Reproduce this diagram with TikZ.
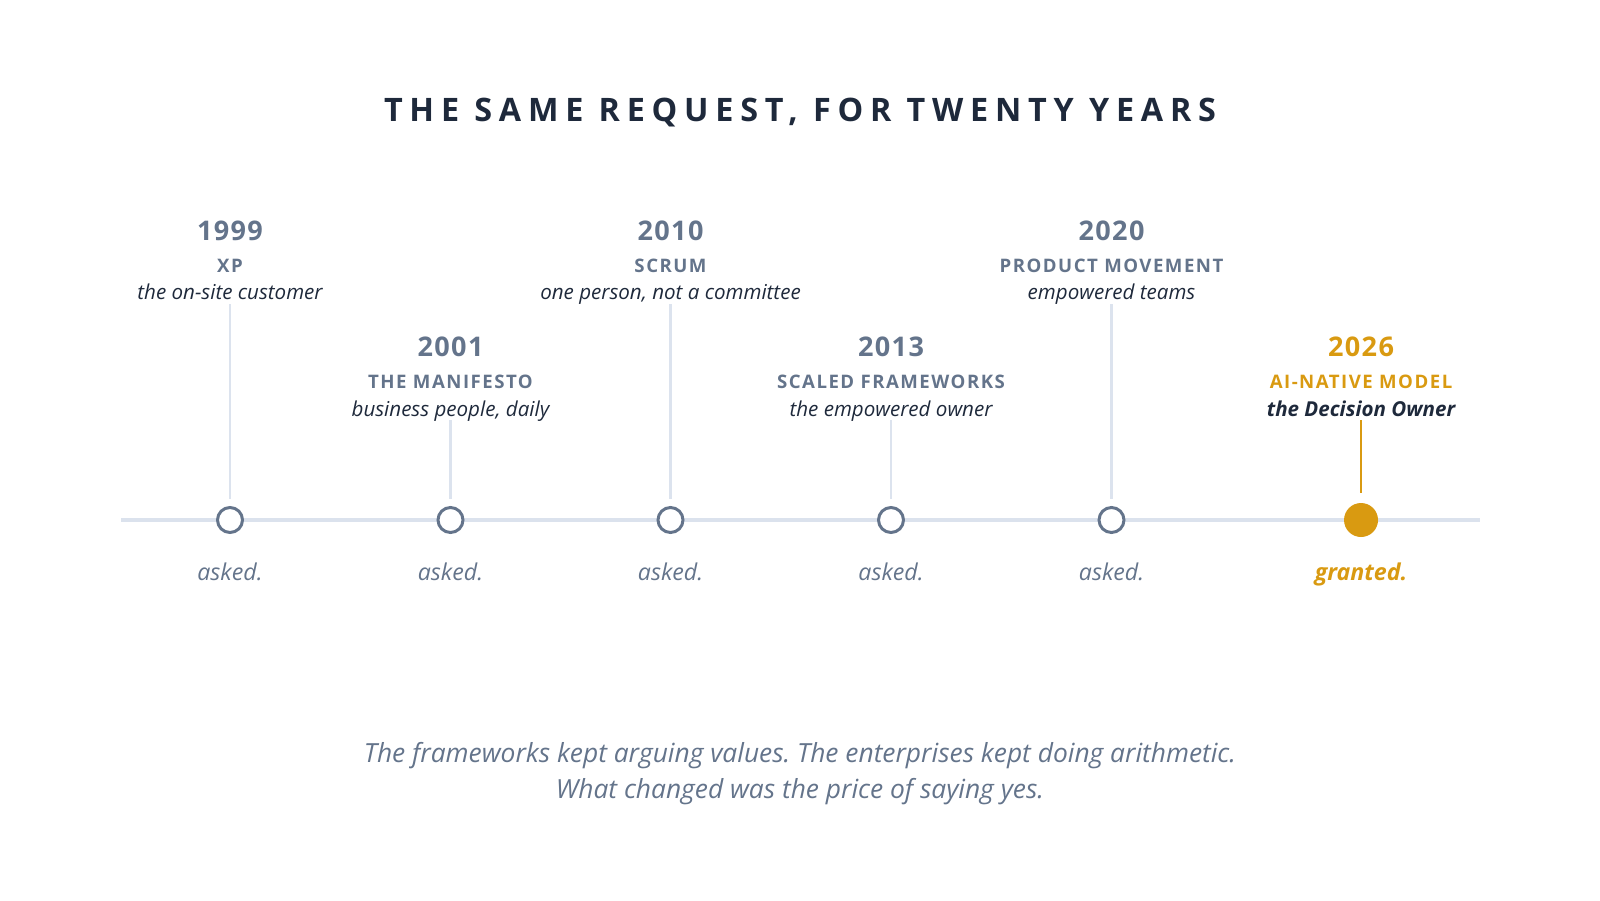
\documentclass[tikz,border=0pt]{standalone}
\usepackage{fontspec}
\setmainfont{Open Sans}
\newfontfamily\headfont[LetterSpace=21]{Open Sans}
\newfontfamily\catfont[LetterSpace=8]{Open Sans}
\newfontfamily\yearfont[LetterSpace=5]{Open Sans}
\usetikzlibrary{positioning}
\frenchspacing

\definecolor{ink}{HTML}{1E293B}
\definecolor{slate}{HTML}{64748B}
\definecolor{rail}{HTML}{DBE2ED}
\definecolor{stemc}{HTML}{DCE3EE}
\definecolor{gold}{HTML}{D99A11}

\begin{document}
\begin{tikzpicture}[
  every node/.style={inner sep=0pt, outer sep=0pt, anchor=base},
  title/.style={font=\headfont\fontsize{9.2}{10}\selectfont\bfseries, text=ink},
  year/.style={font=\yearfont\fontsize{7.7}{9}\selectfont\bfseries, text=slate},
  cat/.style={font=\catfont\fontsize{5.3}{6}\selectfont\bfseries, text=slate},
  note/.style={font=\fontsize{5.85}{7}\selectfont\itshape, text=ink},
  verdict/.style={font=\fontsize{6.6}{8}\selectfont\itshape, text=slate},
  footer/.style={font=\fontsize{7.5}{9}\selectfont\itshape, text=slate},
  dot/.style={circle, draw=slate, fill=white, line width=0.85pt, minimum size=0.25cm, anchor=center},
  golddot/.style={circle, fill=gold, minimum size=0.34cm, anchor=center},
  stem/.style={draw=stemc, line width=0.6pt},
]
\useasboundingbox (0,0) rectangle (16,9);

% heading
\node[title] (head) at (8,7.78) {THE SAME REQUEST, FOR TWENTY YEARS};

% the rail
\coordinate (railL) at (1.21,3.80);
\coordinate (railR) at (14.80,3.80);
\draw[rail, line width=0.95pt] (railL) -- (railR);

% milestones on the rail
\node[dot] (d1999) at (2.30,3.80) {};
\node[dot] (d2001) at (4.505,3.80) {};
\node[dot] (d2010) at (6.705,3.80) {};
\node[dot] (d2013) at (8.91,3.80) {};
\node[dot] (d2020) at (11.115,3.80) {};
\node[golddot] (d2026) at (13.61,3.80) {};

% upper labels
\node[year] (y1999) at (2.30,6.60) {1999};
\node[cat] (c1999) at (2.30,6.28) {XP};
\node[note] (n1999) at (2.30,6.01) {the on-site customer};
\node[year] (y2010) at (6.705,6.60) {2010};
\node[cat] (c2010) at (6.705,6.28) {SCRUM};
\node[note] (n2010) at (6.705,6.01) {one person, not a committee};
\node[year] (y2020) at (11.115,6.60) {2020};
\node[cat] (c2020) at (11.115,6.28) {PRODUCT MOVEMENT};
\node[note] (n2020) at (11.115,6.01) {empowered teams};

% lower labels
\node[year] (y2001) at (4.505,5.44) {2001};
\node[cat] (c2001) at (4.505,5.12) {THE MANIFESTO};
\node[note] (n2001) at (4.505,4.84) {business people, daily};
\node[year] (y2013) at (8.91,5.44) {2013};
\node[cat] (c2013) at (8.91,5.12) {SCALED FRAMEWORKS};
\node[note] (n2013) at (8.91,4.84) {the empowered owner};
\node[year, text=gold] (y2026) at (13.61,5.44) {2026};
\node[cat, text=gold] (c2026) at (13.61,5.12) {AI-NATIVE MODEL};
\node[note, font=\fontsize{5.85}{7}\selectfont\bfseries\itshape] (n2026) at (13.61,4.84) {the Decision Owner};

% stems
\draw[stem, shorten >=0.09cm] ([yshift=-0.05cm]n1999.base) -- (d1999.north);
\draw[stem, shorten >=0.09cm] ([yshift=-0.04cm]n2001.base) -- (d2001.north);
\draw[stem, shorten >=0.09cm] ([yshift=-0.05cm]n2010.base) -- (d2010.north);
\draw[stem, shorten >=0.09cm] ([yshift=-0.04cm]n2013.base) -- (d2013.north);
\draw[stem, shorten >=0.09cm] ([yshift=-0.05cm]n2020.base) -- (d2020.north);
\draw[gold, line width=0.8pt, shorten >=0.1cm] ([yshift=-0.04cm]n2026.base) -- (d2026.north);

% verdicts
\node[verdict] (v1999) at (2.30,3.20) {asked.};
\node[verdict] (v2001) at (4.505,3.20) {asked.};
\node[verdict] (v2010) at (6.705,3.20) {asked.};
\node[verdict] (v2013) at (8.91,3.20) {asked.};
\node[verdict] (v2020) at (11.115,3.20) {asked.};
\node[verdict, text=gold, font=\fontsize{6.6}{8}\selectfont\bfseries\itshape] (v2026) at (13.61,3.20) {granted.};

% closing lines
\node[footer] (foot1) at (8,1.38) {The frameworks kept arguing values. The enterprises kept doing arithmetic.};
\node[footer] (foot2) at (8,1.02) {What changed was the price of saying yes.};
\end{tikzpicture}
\end{document}
